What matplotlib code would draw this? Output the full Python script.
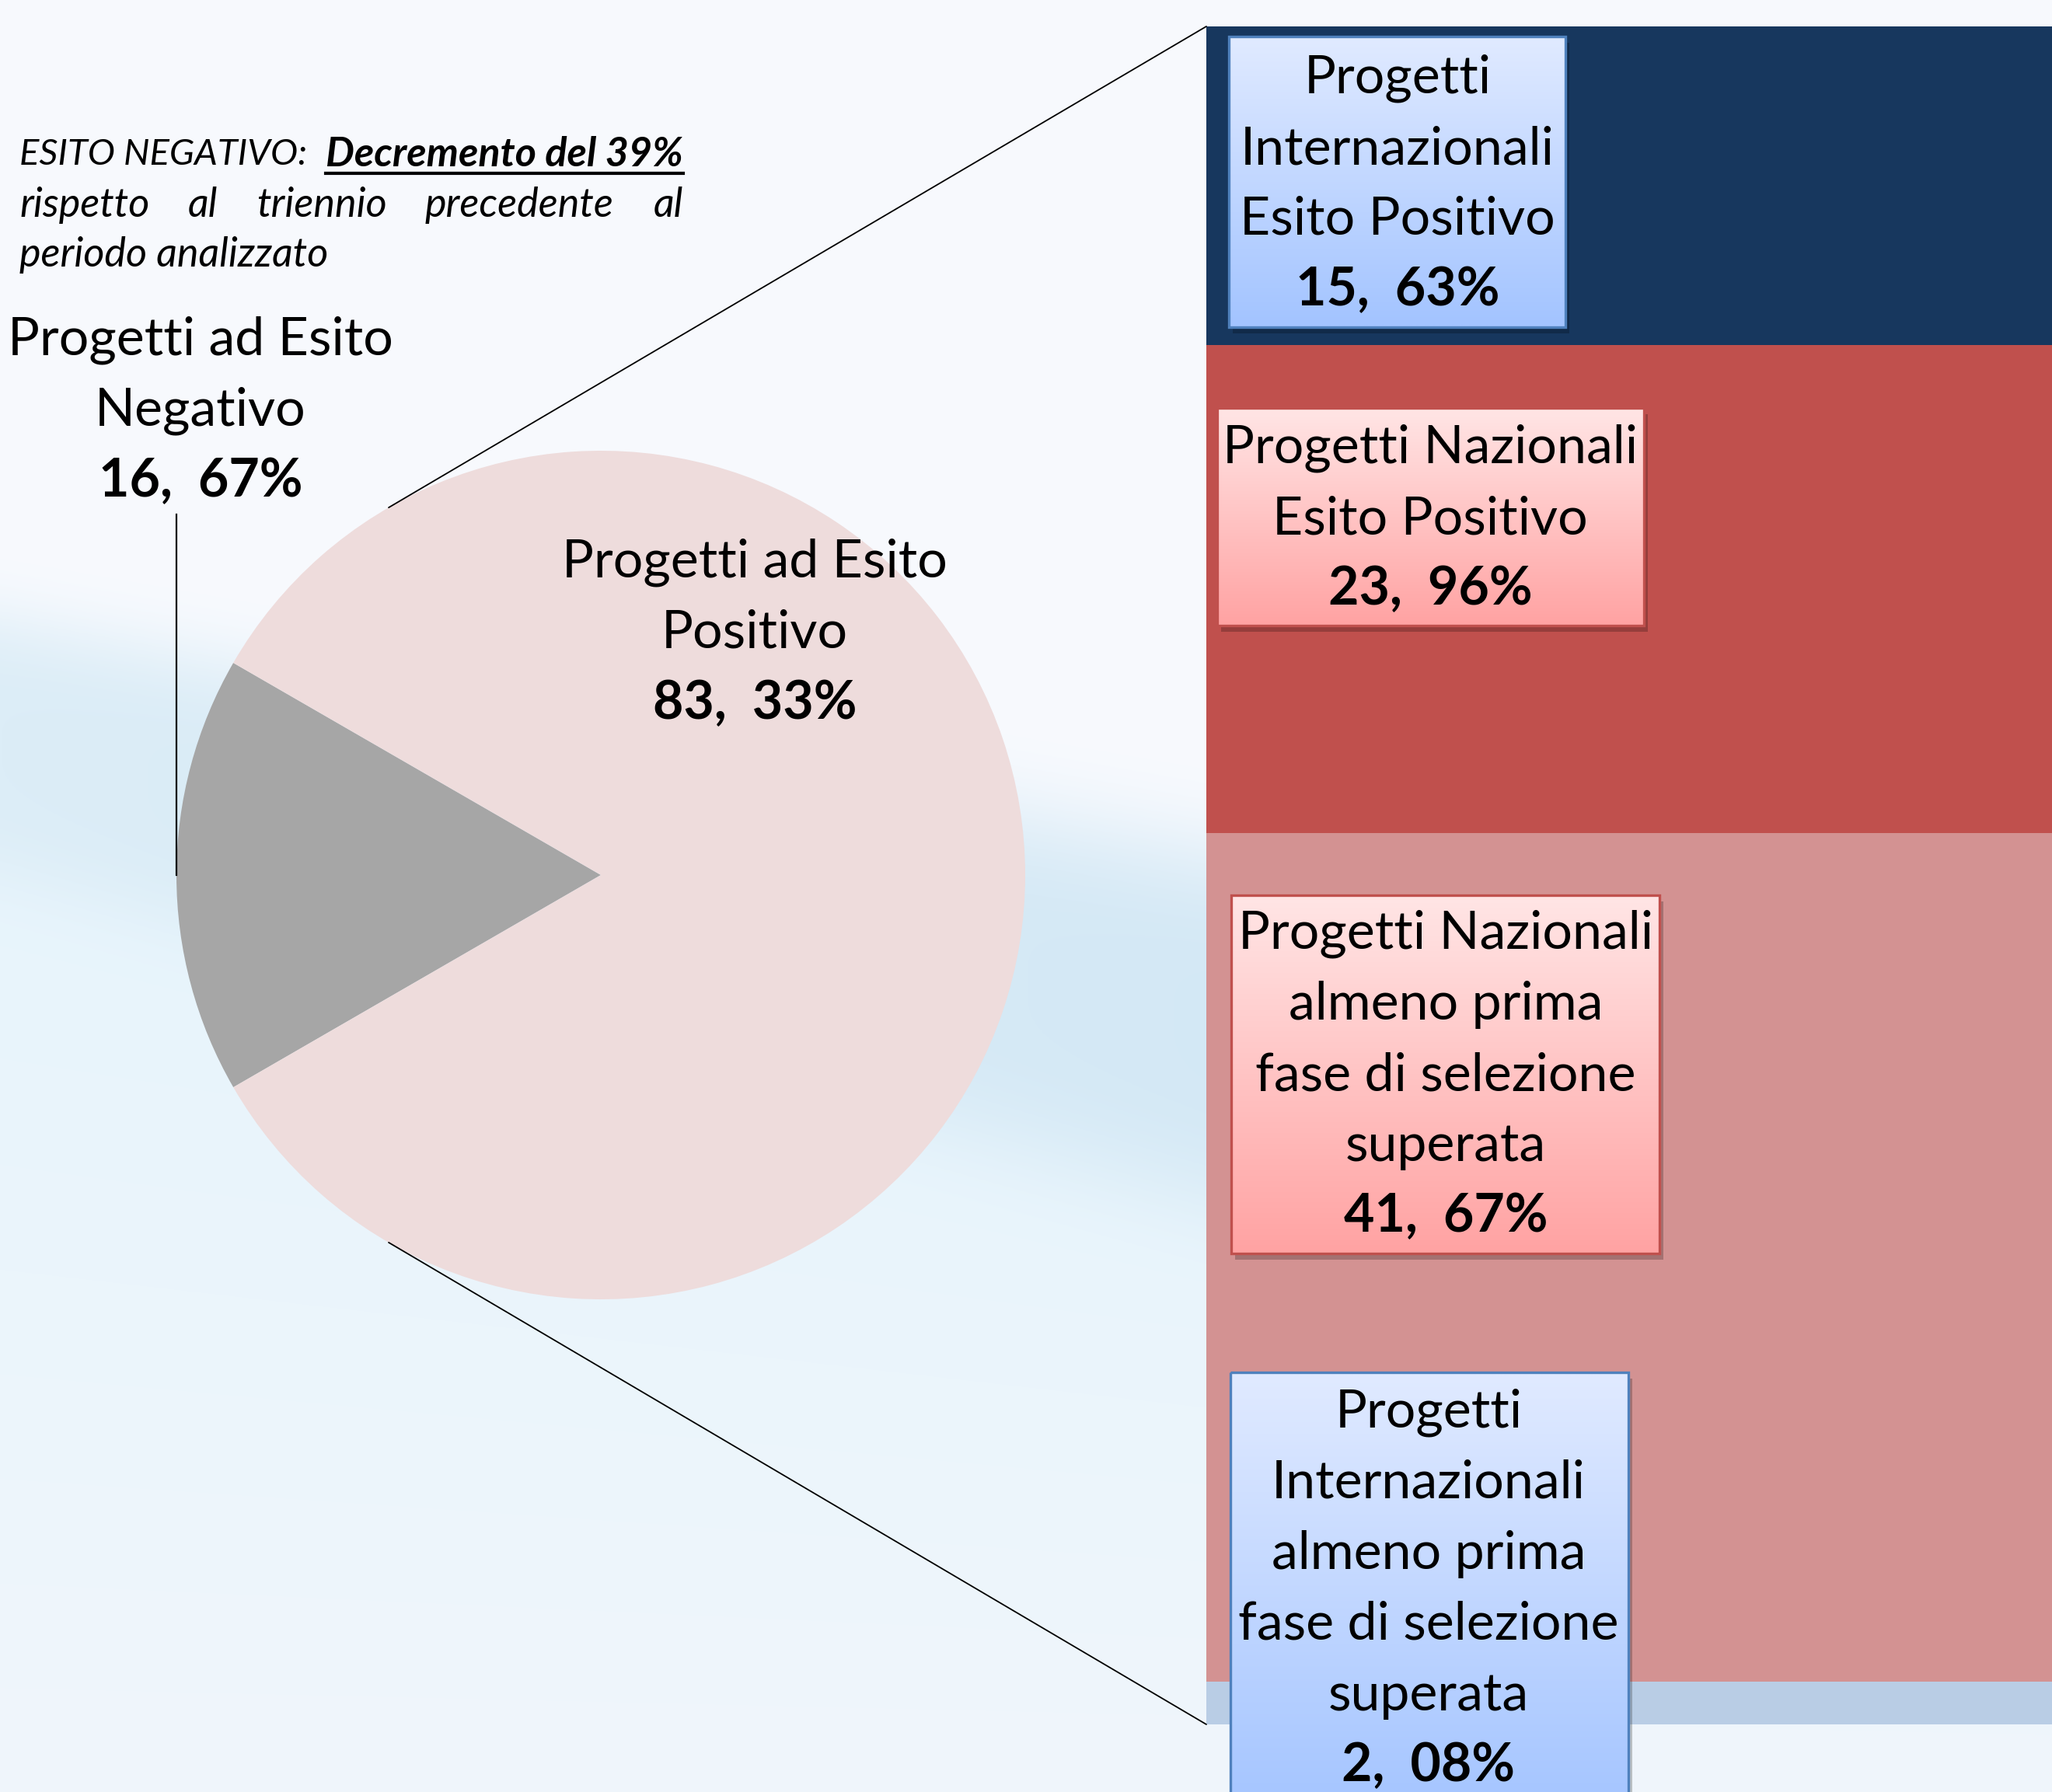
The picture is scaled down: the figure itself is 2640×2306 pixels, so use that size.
import numpy as np
import matplotlib
matplotlib.use("Agg")
import matplotlib.pyplot as plt
from matplotlib.patches import Rectangle, ConnectionPatch

plt.rcParams['font.family'] = ['Lato', 'DejaVu Sans']

W, H = 2640, 2306

# pie: negative vs positive outcome
pie_lines = [["Progetti ad Esito", "Negativo"], ["Progetti ad Esito", "Positivo"]]
pie_values = [16.67, 83.33]
pie_colors = ["#A6A6A6", "#EEDCDC"]

# bar: breakdown of the positive slice
bar_lines = [
    ["Progetti", "Internazionali", "Esito Positivo"],
    ["Progetti Nazionali", "Esito Positivo"],
    ["Progetti Nazionali", "almeno prima", "fase di selezione", "superata"],
    ["Progetti", "Internazionali", "almeno prima", "fase di selezione", "superata"],
]
bar_values = [15.63, 23.96, 41.67, 2.08]
bar_colors = ["#17375E", "#C0504D", "#D39292", "#B9CDE5"]


def fmt(v):
    return f"{v:.2f}".replace(".", ",  ") + "%"


fig = plt.figure(figsize=(W / 100, H / 100), dpi=100)

# ---- background + pie (pixel coords, y up)
ax = fig.add_axes([0, 0, 1, 1])
yy, xx = np.mgrid[0:H:4, 0:W:4].astype(float)
top_c = np.array([248, 250, 254]) / 255
below_top = np.array([230, 244, 252]) / 255
below_bot = np.array([240, 246, 251]) / 255
yc = 960 + 0.23 * xx
hw = 175 + 0.04 * xx
below = 1 / (1 + np.exp(-(yy - yc) / 60.0))
tb = np.clip((yy - yc) / (H - yc + 1), 0, 1)[..., None]
below_c = (1 - tb) * below_top + tb * below_bot
bg = (1 - below[..., None]) * top_c + below[..., None] * below_c
band = np.exp(-((yy - yc) / hw) ** 4)[..., None]
band_c = (np.array([220, 237, 247]) / 255) * (1 - xx[..., None] / W) + \
    (np.array([206, 229, 244]) / 255) * (xx[..., None] / W)
bg = bg * (1 - band) + band_c * band
ax.imshow(bg, extent=(0, W, 0, H), origin="upper", aspect="auto", zorder=0,
          interpolation="bilinear")

cx, cy, R = 773, H - 1126, 546
ax.pie(pie_values, colors=pie_colors, startangle=150, center=(cx, cy), radius=R,
       wedgeprops=dict(linewidth=0))
ax.set_xlim(0, W)
ax.set_ylim(0, H)
ax.set_aspect("auto")
ax.axis("off")

# leader line for the negative label
ax.plot([cx - R, cx - R], [cy, H - 662], color="black", lw=1.6, zorder=5)

# ---- stacked bar
bx = fig.add_axes([1552 / W, (H - 2219) / H, 1 - 1552 / W, (2219 - 34) / H])
bottom = 0
for v, c in zip(bar_values, bar_colors):
    bx.bar(0, v, bottom=bottom, width=1, color=c, linewidth=0)
    bottom += v
total = sum(bar_values)
bx.set_xlim(-0.5, 0.5)
bx.set_ylim(total, 0)
bx.axis("off")

# connector lines from pie edge to bar
for ang, yb in [(120, 0), (240, total)]:
    pa = (cx + R * np.cos(np.radians(ang)), cy + R * np.sin(np.radians(ang)))
    con = ConnectionPatch(xyA=pa, coordsA=ax.transData, xyB=(-0.5, yb),
                          coordsB=bx.transData, color="black", lw=1.3)
    fig.add_artist(con)

# ---- overlay for labels (pixel coords, y down)
ov = fig.add_axes([0, 0, 1, 1])
ov.patch.set_alpha(0)
ov.axis("off")

blue_box = ((224 / 255, 234 / 255, 1.0), (163 / 255, 196 / 255, 1.0), "#4F81BD")
red_box = ((1.0, 229 / 255, 229 / 255), (1.0, 163 / 255, 163 / 255), "#C0504D")


def grad_box(x0, y0, x1, y1, style):
    c_top, c_bot, edge = style
    ov.add_patch(Rectangle((x0 + 5, y0 + 8), x1 - x0, y1 - y0, color="black",
                           alpha=0.22, lw=0, zorder=2))
    g = np.linspace(0, 1, 64)[:, None, None]
    img = (1 - g) * np.array(c_top) + g * np.array(c_bot)
    ov.imshow(img, extent=(x0, x1, y1, y0), aspect="auto", zorder=3,
              interpolation="bilinear")
    ov.add_patch(Rectangle((x0, y0), x1 - x0, y1 - y0, fill=False,
                           edgecolor=edge, lw=2.4, zorder=4))


FS = 49
STEP = 91


def label(xc, y0, lines, value):
    for i, s in enumerate(lines):
        ov.text(xc, y0 + i * STEP, s, ha="center", va="center", fontsize=FS, zorder=6)
    ov.text(xc, y0 + len(lines) * STEP, fmt(value), ha="center", va="center",
            fontsize=FS, fontweight="bold", zorder=6)


boxes = [(1581, 47, 2014, 421, blue_box), (1566, 525, 2115, 805, red_box),
         (1584, 1152, 2135, 1613, red_box), (1583, 1766, 2095, 2345, blue_box)]
centers = [(1798, 101), (1840, 577), (1860, 1202), (1838, 1818)]
for (x0, y0, x1, y1, st), (xc, yt), lines, v in zip(boxes, centers, bar_lines, bar_values):
    grad_box(x0, y0, x1, y1, st)
    label(xc, yt, lines, v)

label(258, 438, pie_lines[0], pie_values[0])
label(971, 724, pie_lines[1], pie_values[1])

# italic note
FN = 37.5
ov.text(25, 199, "ESITO NEGATIVO:", style="italic", fontsize=34, ha="left", va="center")
dec = ov.text(879, 199, "Decremento del 39%", style="italic", fontweight="bold",
              fontsize=FN, ha="right", va="center")
for s, x, ha in [("rispetto", 25, "left"), ("al", 261, "center"), ("triennio", 414, "center"),
                 ("precedente", 668, "center"), ("al", 879, "right")]:
    ov.text(x, 264, s, style="italic", fontsize=FN, ha=ha, va="center")
ov.text(25, 328, "periodo analizzato", style="italic", fontsize=FN, ha="left", va="center")

ov.set_xlim(0, W)
ov.set_ylim(H, 0)
fig.canvas.draw()
bb = dec.get_window_extent().transformed(ov.transData.inverted())
ov.plot([bb.x0, bb.x1], [223, 223], color="black", lw=3)
ov.set_xlim(0, W)
ov.set_ylim(H, 0)

fig.savefig("out.png", dpi=100)
